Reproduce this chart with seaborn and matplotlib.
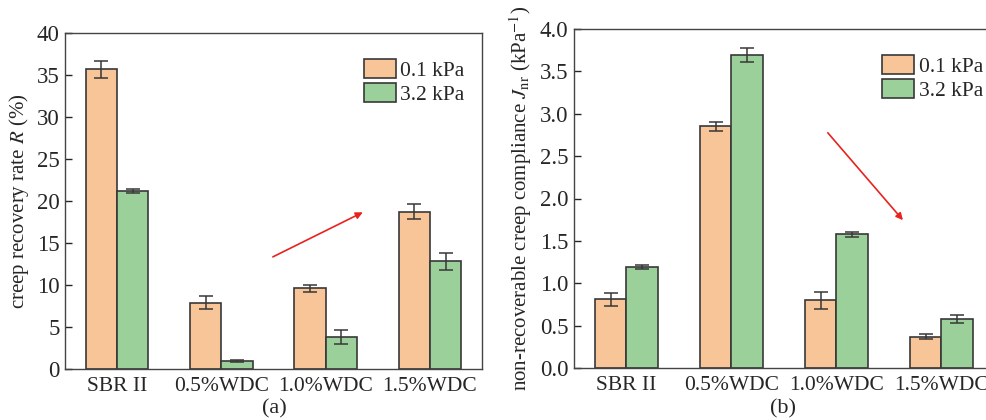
import numpy as np
import pandas as pd
import matplotlib
matplotlib.use("Agg")
import matplotlib.pyplot as plt
import seaborn as sns

categories = ["SBR II", "0.5%WDC", "1.0%WDC", "1.5%WDC"]
loads = ["0.1 kPa", "3.2 kPa"]

# creep recovery rate R (%)
r_low = [35.7, 7.9, 9.6, 18.7]
r_low_err = [1.0, 0.8, 0.45, 0.9]
r_high = [21.2, 0.9, 3.8, 12.8]
r_high_err = [0.2, 0.12, 0.8, 1.0]

# non-recoverable creep compliance Jnr (kPa^-1)
j_low = [0.81, 2.85, 0.80, 0.37]
j_low_err = [0.08, 0.05, 0.10, 0.03]
j_high = [1.19, 3.69, 1.58, 0.58]
j_high_err = [0.02, 0.08, 0.03, 0.05]

COLORS = ["#F7C598", "#9BD09A"]
EDGE = "#383838"

sns.set_style("ticks")
plt.rcParams["font.family"] = ["Liberation Serif", "DejaVu Serif"]
plt.rcParams["mathtext.fontset"] = "stix"
plt.rcParams["axes.linewidth"] = 1.0


def make_df(low, high):
    return pd.DataFrame({
        "cat": categories * 2,
        "load": [loads[0]] * 4 + [loads[1]] * 4,
        "val": low + high,
    })


def draw_panel(ax, low, low_err, high, high_err, ylim, yticks, fmt, leg_x):
    df = make_df(low, high)
    sns.barplot(data=df, x="cat", y="val", hue="load", order=categories,
                hue_order=loads, palette=COLORS, width=0.6, errorbar=None,
                edgecolor=EDGE, linewidth=1.2, saturation=1, ax=ax)
    x = np.arange(len(categories))
    for off, vals, errs in [(-0.15, low, low_err), (0.15, high, high_err)]:
        ax.errorbar(x + off, vals, yerr=errs, fmt="none", ecolor=EDGE,
                    elinewidth=1.1, capsize=5, capthick=1.1)
    ax.set_xlim(-0.5, 3.5)
    ax.set_ylim(*ylim)
    ax.set_yticks(yticks)
    ax.set_yticklabels([fmt.format(t) for t in yticks])
    ax.tick_params(axis="y", direction="in", length=5, labelsize=16.5, width=1, pad=4)
    ax.tick_params(axis="x", length=0, labelsize=15.5, pad=6)
    ax.set_xlabel("")
    for s in ax.spines.values():
        s.set_visible(True)
        s.set_color("#444444")
    leg = ax.legend(loc="upper right", bbox_to_anchor=(leg_x, 1.0),
                    frameon=False, fontsize=15.5,
                    handlelength=1.5, handleheight=1.0, handletextpad=0.2,
                    labelspacing=0.1, borderaxespad=0.8)
    for h in leg.get_patches():
        h.set_edgecolor(EDGE)
        h.set_linewidth(1.2)


fig = plt.figure(figsize=(9.87, 4.2), dpi=100)
ax1 = fig.add_axes([65 / 987, 51 / 420, 417 / 987, 336 / 420])
ax2 = fig.add_axes([574 / 987, 52 / 420, 420 / 987, 339 / 420])

draw_panel(ax1, r_low, r_low_err, r_high, r_high_err, (0, 40),
           np.arange(0, 41, 5), "{:.0f}", 1.02)
ax1.set_ylabel("creep recovery rate $\\it{R}$ (%)", fontsize=15, labelpad=4)
ax1.annotate("", xy=(2.38, 18.8), xytext=(1.47, 13.2),
             arrowprops=dict(arrowstyle="-|>", color="#E8231E", lw=1.2,
                             mutation_scale=10))

draw_panel(ax2, j_low, j_low_err, j_high, j_high_err, (0, 4.0),
           np.arange(0, 4.01, 0.5), "{:.1f}", 1.035)
ax2.set_ylabel("non-recoverable creep compliance $\\it{J}_{\\rm nr}$ (kPa$^{-1}$)",
               fontsize=15, labelpad=4)
ax2.annotate("", xy=(2.65, 1.72), xytext=(1.90, 2.80),
             arrowprops=dict(arrowstyle="-|>", color="#E8231E", lw=1.2,
                             mutation_scale=10))

fig.text(274 / 987, 1 - 409 / 420, "(a)", ha="center", va="center", fontsize=16)
fig.text(783 / 987, 1 - 409 / 420, "(b)", ha="center", va="center", fontsize=16)

fig.savefig("out.png", dpi=100)
